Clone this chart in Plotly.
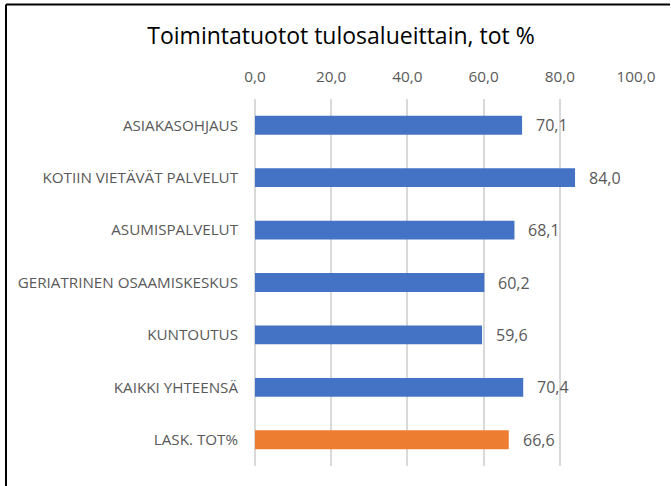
import plotly.graph_objects as go

categories = ["ASIAKASOHJAUS", "KOTIIN VIETÄVÄT PALVELUT", "ASUMISPALVELUT",
              "GERIATRINEN OSAAMISKESKUS", "KUNTOUTUS", "KAIKKI YHTEENSÄ", "LASK. TOT%"]
values = [70.1, 84.0, 68.1, 60.2, 59.6, 70.4, 66.6]
bar_colors = ["#4472C4"] * 6 + ["#ED7D31"]
x_ticks = [0, 20, 40, 60, 80, 100]

FONT = "Open Sans"
W, H = 671, 486
ml, mr, mt, mb = 255, 35, 99, 20
pw, ph = W - ml - mr, H - mt - mb

fig = go.Figure()
fig.add_trace(go.Bar(
    y=categories, x=values, orientation="h",
    marker=dict(color=bar_colors, line=dict(width=0)),
    width=0.36,
    hoverinfo="skip",
))

for c, v in zip(categories, values):
    fig.add_annotation(x=v, y=c, text=f"{v:.1f}".replace(".", ","),
                       xanchor="left", yanchor="middle", xshift=12, showarrow=False,
                       font=dict(family=FONT, size=16, color="#595959"))

# chart border (top and left edges), in paper coords computed from margins
bx0, bx1 = (6 - ml) / pw, (670 - ml) / pw
by_top, by_bot = (H - mb - 4.5) / ph, (H - mb - 495) / ph
fig.add_shape(type="line", xref="paper", yref="paper", x0=bx0, x1=bx1, y0=by_top, y1=by_top,
              line=dict(color="#000000", width=2), layer="above")
fig.add_shape(type="line", xref="paper", yref="paper", x0=bx0, x1=bx0, y0=by_top, y1=by_bot,
              line=dict(color="#000000", width=2), layer="above")

fig.update_layout(
    width=W, height=H,
    margin=dict(l=ml, r=mr, t=mt, b=mb, autoexpand=False),
    paper_bgcolor="white", plot_bgcolor="white",
    separators=", ",
    showlegend=False,
    title=dict(text="Toimintatuotot tulosalueittain, tot %", x=(341) / W, xanchor="center",
               y=1 - 36 / H, yanchor="middle",
               font=dict(family=FONT, size=23, color="#000000")),
    xaxis=dict(side="top", range=[0, 100], tickvals=x_ticks, tickformat=".1f",
               automargin=False,
               showgrid=True, gridcolor="#D9D9D9", gridwidth=1.5,
               zeroline=True, zerolinecolor="#D9D9D9", zerolinewidth=1.5,
               showline=False, ticks="", ticklabelstandoff=13,
               tickfont=dict(family=FONT, size=15.3, color="#595959")),
    yaxis=dict(categoryorder="array", categoryarray=categories[::-1],
               automargin=False,
               showgrid=False, zeroline=False, showline=False, ticks="",
               ticklabelstandoff=16,
               tickfont=dict(family=FONT, size=15.2, color="#595959")),
)

fig.write_html("out.html", config={"displayModeBar": False},
               post_script="document.body.style.margin='0px';document.body.style.overflow='hidden';")
